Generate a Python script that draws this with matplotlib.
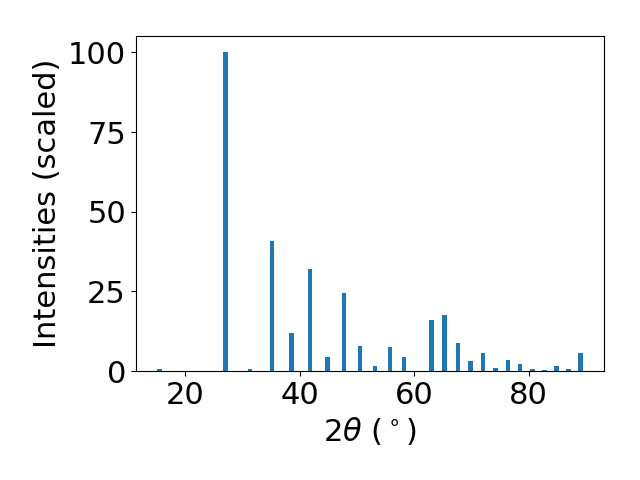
import numpy as np
from matplotlib import pyplot as plt

two_theta = [15.42, 26.96, 31.28, 35.09, 38.54, 41.74, 44.83, 47.68, 50.47, 53.1,
             55.74, 58.2, 63.0, 65.28, 67.6, 69.83, 71.98, 74.2, 76.35, 78.45,
             80.66, 82.76, 84.86, 86.96, 89.06]
intensities = [0.6, 100, 0.6, 40.8, 12.0, 32.0, 4.4, 24.5, 7.8, 1.6,
               7.5, 4.4, 16.0, 17.6, 8.8, 3.1, 5.6, 0.9, 3.4, 2.2,
               0.6, 0.3, 1.6, 0.6, 5.6]

plt.rcParams['font.size'] = 22

fig, ax = plt.subplots(figsize=(6.4, 4.8), dpi=100)
ax.bar(two_theta, intensities, width=0.8)
ax.set_xlabel(r'$2\theta$ ($^\circ$)')
ax.set_ylabel('Intensities (scaled)')
ax.set_yticks([0, 25, 50, 75, 100])
fig.subplots_adjust(left=0.212, right=0.944, bottom=0.227, top=0.924)
fig.savefig('out.png')
